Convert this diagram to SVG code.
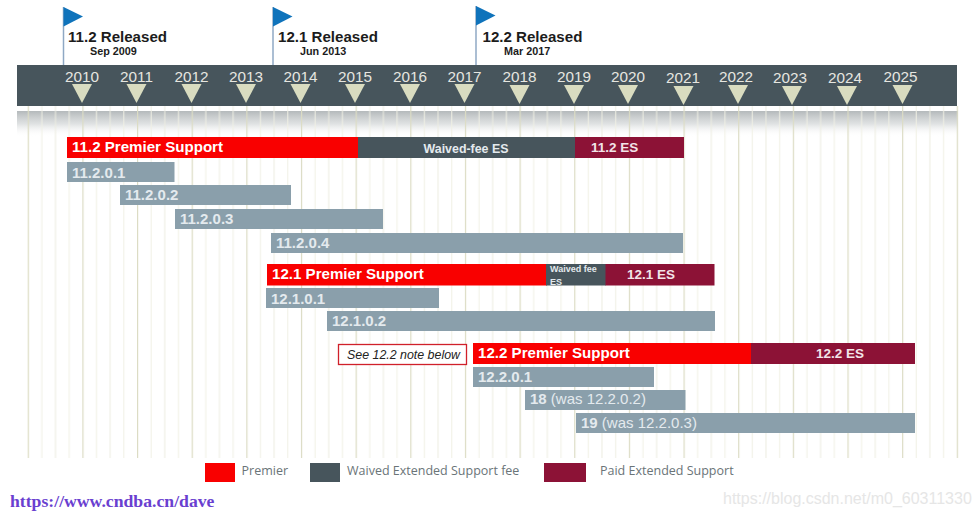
<svg xmlns="http://www.w3.org/2000/svg" width="980" height="517" viewBox="0 0 980 517">
<style>
text{font-family:"Liberation Sans",Arial,sans-serif}
.t{font-weight:bold;fill:#fff;font-size:15.100px}
.b{font-weight:bold;fill:#e4eaee;font-size:15px}
.n{fill:#e4eaee;font-size:15px}
.y{fill:#e6e6e0;font-size:15.300px;text-anchor:middle}
.r{font-weight:bold;fill:#1c1c1c;font-size:15.100px}
.d{font-weight:bold;fill:#1c1c1c;font-size:10.800px}
.v{fill:#8a9fab}
.p{fill:#f90000}
.w{fill:#47555c}
.e{fill:#8c1236}
.l{font-family:"Open Sans","Liberation Sans",sans-serif;font-size:12.500px;fill:#6a7478}
.f{fill:#0f73bb}
.s{stroke:#8fa8c4;stroke-width:1.500}
</style>
<defs>
<pattern id="grid" x="27.700" y="0" width="54.650" height="10" patternUnits="userSpaceOnUse">
<rect x="0" y="0" width="1.200" height="10" fill="#dcdcc4"/>
<rect x="13.650" y="0" width="1" height="10" fill="#f0f0e4"/>
<rect x="27.300" y="0" width="1" height="10" fill="#ecece0"/>
<rect x="41" y="0" width="1" height="10" fill="#f0f0e4"/>
</pattern>
<linearGradient id="sh" x1="0" y1="0" x2="0" y2="1">
<stop offset="0" stop-color="#b4b9bb"/>
<stop offset="0.500" stop-color="#d8dbdc" stop-opacity="0.800"/>
<stop offset="1" stop-color="#fff" stop-opacity="0"/>
</linearGradient>
<path id="tri" d="M-10 0H10L0 19Z" fill="#d9dcc0"/>
</defs>
<rect width="980" height="517" fill="#fff"/>

<g id="grid-lines">
<rect x="17" y="111" width="941" height="26" fill="url(#sh)"/>
<rect x="27" y="106" width="932" height="352" fill="url(#grid)"/>
</g>

<g id="timeline-band">
<rect x="17" y="65" width="940" height="41" fill="#47555c"/>
<g id="years">
<text class="y" x="82" y="82">2010</text><use href="#tri" x="82" y="84"/>
<text class="y" x="136.500" y="82">2011</text><use href="#tri" x="136.500" y="84"/>
<text class="y" x="191.500" y="82">2012</text><use href="#tri" x="191.500" y="84"/>
<text class="y" x="246" y="82">2013</text><use href="#tri" x="246" y="84"/>
<text class="y" x="300.500" y="82">2014</text><use href="#tri" x="300.500" y="84"/>
<text class="y" x="355" y="82">2015</text><use href="#tri" x="355" y="84"/>
<text class="y" x="410" y="82">2016</text><use href="#tri" x="410" y="84"/>
<text class="y" x="464.500" y="82">2017</text><use href="#tri" x="464.500" y="84"/>
<text class="y" x="519.500" y="82">2018</text><use href="#tri" x="519.500" y="85"/>
<text class="y" x="574" y="82">2019</text><use href="#tri" x="574" y="85"/>
<text class="y" x="628" y="82">2020</text><use href="#tri" x="628" y="85"/>
<text class="y" x="683" y="83">2021</text><use href="#tri" x="683.500" y="86"/>
<text class="y" x="736" y="82">2022</text><use href="#tri" x="738" y="85"/>
<text class="y" x="790" y="83">2023</text><use href="#tri" x="792" y="86"/>
<text class="y" x="845" y="83">2024</text><use href="#tri" x="847" y="86"/>
<text class="y" x="900.500" y="82">2025</text><use href="#tri" x="902.500" y="85"/>
</g>
</g>

<g id="release-11-2">
<line class="s" x1="63.500" y1="7" x2="63.500" y2="65"/>
<path class="f" d="M63.500 7L83 16.500L63.500 26.500Z"/>
<text class="r" x="68" y="42">11.2 Released</text>
<text class="d" x="90" y="55">Sep 2009</text>
</g>
<g id="release-12-1">
<line class="s" x1="273" y1="7" x2="273" y2="65"/>
<path class="f" d="M273 7L292.500 16.500L273 26.500Z"/>
<text class="r" x="278" y="42">12.1 Released</text>
<text class="d" x="300" y="55">Jun 2013</text>
</g>
<g id="release-12-2">
<line class="s" x1="476" y1="6" x2="476" y2="65"/>
<path class="f" d="M476 6L495.500 15.500L476 25.500Z"/>
<text class="r" x="482.500" y="42">12.2 Released</text>
<text class="d" x="504" y="55">Mar 2017</text>
</g>

<g id="bar-11-2-premier"><rect class="p" x="67" y="137" width="292" height="21"/><text class="t" x="72" y="152">11.2 Premier Support</text></g>
<g id="bar-11-2-waived"><rect class="w" x="358" y="137" width="217" height="21"/><text x="466" y="153" text-anchor="middle" font-weight="bold" font-size="12.400" fill="#e4eaee">Waived-fee ES</text></g>
<g id="bar-11-2-es"><rect class="e" x="575" y="137" width="109" height="21"/><text x="591" y="152" font-weight="bold" font-size="13.500" fill="#f2e4e8">11.2 ES</text></g>
<g id="bar-11-2-0-1"><rect class="v" x="67" y="162" width="107.500" height="20"/><text class="b" x="72" y="178">11.2.0.1</text></g>
<g id="bar-11-2-0-2"><rect class="v" x="120" y="185" width="171" height="20"/><text class="b" x="125" y="200">11.2.0.2</text></g>
<g id="bar-11-2-0-3"><rect class="v" x="175" y="209" width="208" height="20"/><text class="b" x="180" y="224">11.2.0.3</text></g>
<g id="bar-11-2-0-4"><rect class="v" x="271" y="233" width="412" height="20"/><text class="b" x="276" y="248">11.2.0.4</text></g>

<g id="bar-12-1-premier"><rect class="p" x="267" y="264" width="280" height="21.500"/><text class="t" x="272" y="279">12.1 Premier Support</text></g>
<g id="bar-12-1-waived"><rect class="w" x="546" y="264" width="60" height="21.500"/><text x="550" y="272" font-weight="bold" font-size="9" fill="#e4eaee">Waived fee</text><text x="550" y="285" font-weight="bold" font-size="9" fill="#e4eaee">ES</text></g>
<g id="bar-12-1-es"><rect class="e" x="605.500" y="264" width="109" height="21.500"/><text x="627" y="279" font-weight="bold" font-size="13.500" fill="#f2e4e8">12.1 ES</text></g>
<g id="bar-12-1-0-1"><rect class="v" x="266" y="288" width="173" height="20"/><text class="b" x="271" y="304">12.1.0.1</text></g>
<g id="bar-12-1-0-2"><rect class="v" x="327" y="311" width="388" height="20"/><text class="b" x="332" y="326">12.1.0.2</text></g>

<g id="note-12-2"><rect x="338.500" y="344.500" width="128" height="20" fill="#fff" stroke="#d0202a" stroke-width="1.300"/><text x="347" y="359" font-style="italic" font-size="12.400" fill="#222">See 12.2 note below</text></g>
<g id="bar-12-2-premier"><rect class="p" x="473" y="343" width="279" height="21"/><text class="t" x="478" y="358">12.2 Premier Support</text></g>
<g id="bar-12-2-es"><rect class="e" x="751" y="343" width="164" height="21"/><text x="816" y="358" font-weight="bold" font-size="13.500" fill="#f2e4e8">12.2 ES</text></g>
<g id="bar-12-2-0-1"><rect class="v" x="473" y="367" width="181" height="20"/><text class="b" x="478" y="382">12.2.0.1</text></g>
<g id="bar-18"><rect class="v" x="525" y="390" width="160.500" height="20"/><text class="n" x="530" y="404"><tspan font-weight="bold">18</tspan> (was 12.2.0.2)</text></g>
<g id="bar-19"><rect class="v" x="576" y="413" width="339" height="20"/><text class="n" x="581" y="428"><tspan font-weight="bold">19</tspan> (was 12.2.0.3)</text></g>

<g id="legend">
<rect class="p" x="205" y="463" width="30" height="19"/>
<text class="l" x="241.500" y="475">Premier</text>
<rect class="w" x="310" y="463" width="30" height="19"/>
<text class="l" x="347" y="475">Waived Extended Support fee</text>
<rect class="e" x="544" y="463" width="42" height="19"/>
<text class="l" x="600" y="475">Paid Extended Support</text>
</g>

<g id="watermarks">
<text x="10" y="507" font-size="17.700" font-weight="bold" style="font-family:'Liberation Serif',serif" fill="#6a3fd0">https://www.cndba.cn/dave</text>
<text x="723" y="504" font-size="16" fill="#e6e6e6">https://blog.csdn.net/m0_60311330</text>
</g>
</svg>
